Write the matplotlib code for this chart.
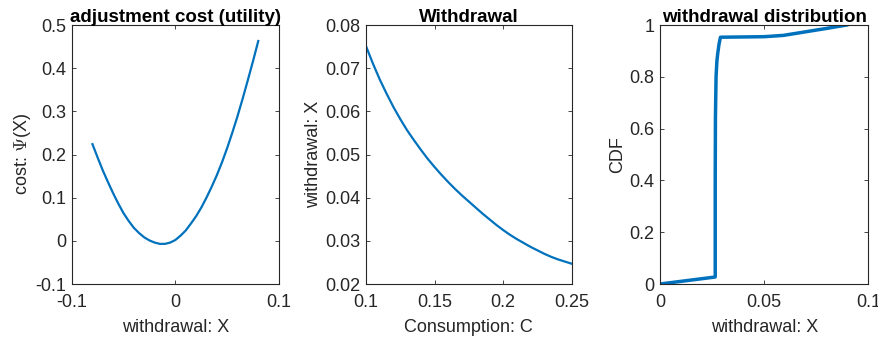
import matplotlib
matplotlib.use("Agg")
import matplotlib.pyplot as plt

plt.rcParams['font.family'] = ['Liberation Sans', 'DejaVu Sans']
plt.rcParams['mathtext.fontset'] = 'cm'
plt.rcParams['axes.unicode_minus'] = False

blue = '#0072BD'
dark = '#262626'

# adjustment cost psi(X)
x_cost = [-0.080, -0.075, -0.070, -0.065, -0.060, -0.055, -0.050, -0.045,
          -0.040, -0.035, -0.030, -0.025, -0.020, -0.015, -0.010, -0.005,
          0.000, 0.005, 0.010, 0.015, 0.020, 0.025, 0.030, 0.035,
          0.040, 0.045, 0.050, 0.055, 0.060, 0.065, 0.070, 0.075, 0.080]
psi = [0.224, 0.193, 0.163, 0.136, 0.110, 0.086, 0.064, 0.046,
       0.030, 0.018, 0.008, 0.001, -0.004, -0.007, -0.007, -0.004,
       0.002, 0.012, 0.024, 0.040, 0.057, 0.077, 0.100, 0.125,
       0.152, 0.182, 0.215, 0.251, 0.289, 0.330, 0.373, 0.417, 0.463]

# withdrawal policy vs consumption
cons = [0.100, 0.105, 0.110, 0.115, 0.120, 0.125, 0.130, 0.135, 0.140, 0.145,
        0.150, 0.155, 0.160, 0.165, 0.170, 0.175, 0.180, 0.185, 0.190, 0.195,
        0.200, 0.205, 0.210, 0.215, 0.220, 0.225, 0.230, 0.235, 0.240, 0.245,
        0.250]
withdraw = [0.0751, 0.0711, 0.0674, 0.0641, 0.0610, 0.0582, 0.0556, 0.0533,
            0.0511, 0.0490, 0.0471, 0.0453, 0.0436, 0.0420, 0.0405, 0.0391,
            0.0377, 0.0363, 0.0350, 0.0337, 0.0325, 0.0314, 0.0304, 0.0295,
            0.0286, 0.0278, 0.0270, 0.0263, 0.0257, 0.0252, 0.0247]

# cdf of withdrawals
x_cdf = [0.0, 0.0265, 0.0265, 0.0266, 0.0269, 0.0273, 0.0277, 0.0283, 0.0290,
         0.040, 0.050, 0.0592, 0.070, 0.080, 0.0896]
cdf = [0.0, 0.027, 0.40, 0.64, 0.80, 0.86, 0.89, 0.925, 0.953,
       0.954, 0.955, 0.960, 0.974, 0.987, 1.0]

TICK = 13
LAB = 13
TTL = 13.5

fig = plt.figure(figsize=(8.79, 3.43), dpi=100)
ax1 = fig.add_axes([0.0816, 0.172, 0.2358, 0.755])
ax2 = fig.add_axes([0.4164, 0.172, 0.2340, 0.755])
ax3 = fig.add_axes([0.7509, 0.172, 0.2369, 0.755])


def style(ax):
    for s in ax.spines.values():
        s.set_color(dark)
        s.set_linewidth(0.8)
    ax.tick_params(direction='in', length=3, width=0.6, top=True, right=True,
                   labelsize=TICK, colors=dark, pad=4)
    ax.tick_params(axis='x', pad=7)


ax1.plot(x_cost, psi, color=blue, lw=1.6)
ax1.set_xlim(-0.1, 0.1)
ax1.set_ylim(-0.1, 0.5)
ax1.set_xticks([-0.1, 0, 0.1], ['-0.1', '0', '0.1'])
ax1.set_yticks([-0.1, 0, 0.1, 0.2, 0.3, 0.4, 0.5],
               ['-0.1', '0', '0.1', '0.2', '0.3', '0.4', '0.5'])
ax1.set_xlabel('withdrawal: X', fontsize=LAB, color=dark, labelpad=6)
ax1.set_ylabel(r'cost: $\Psi$(X)', fontsize=LAB, color=dark, labelpad=2)
ax1.set_title('adjustment cost (utility)', fontsize=TTL, fontweight='bold', pad=2)
style(ax1)

ax2.plot(cons, withdraw, color=blue, lw=1.6)
ax2.set_xlim(0.1, 0.25)
ax2.set_ylim(0.02, 0.08)
ax2.set_xticks([0.1, 0.15, 0.2, 0.25], ['0.1', '0.15', '0.2', '0.25'])
ax2.set_yticks([0.02, 0.03, 0.04, 0.05, 0.06, 0.07, 0.08],
               ['0.02', '0.03', '0.04', '0.05', '0.06', '0.07', '0.08'])
ax2.set_xlabel('Consumption: C', fontsize=LAB, color=dark, labelpad=6)
ax2.set_ylabel('withdrawal: X', fontsize=LAB, color=dark, labelpad=2)
ax2.set_title('Withdrawal', fontsize=TTL, fontweight='bold', pad=2)
style(ax2)

ax3.plot(x_cdf, cdf, color=blue, lw=2.5)
ax3.set_xlim(0, 0.1)
ax3.set_ylim(0, 1)
ax3.set_xticks([0, 0.05, 0.1], ['0', '0.05', '0.1'])
ax3.set_yticks([0, 0.2, 0.4, 0.6, 0.8, 1], ['0', '0.2', '0.4', '0.6', '0.8', '1'])
ax3.set_xlabel('withdrawal: X', fontsize=LAB, color=dark, labelpad=6)
ax3.set_ylabel('CDF', fontsize=LAB, color=dark, labelpad=2)
ax3.set_title('withdrawal distribution', fontsize=TTL, fontweight='bold', pad=2)
style(ax3)

fig.savefig('out.png', dpi=100)
